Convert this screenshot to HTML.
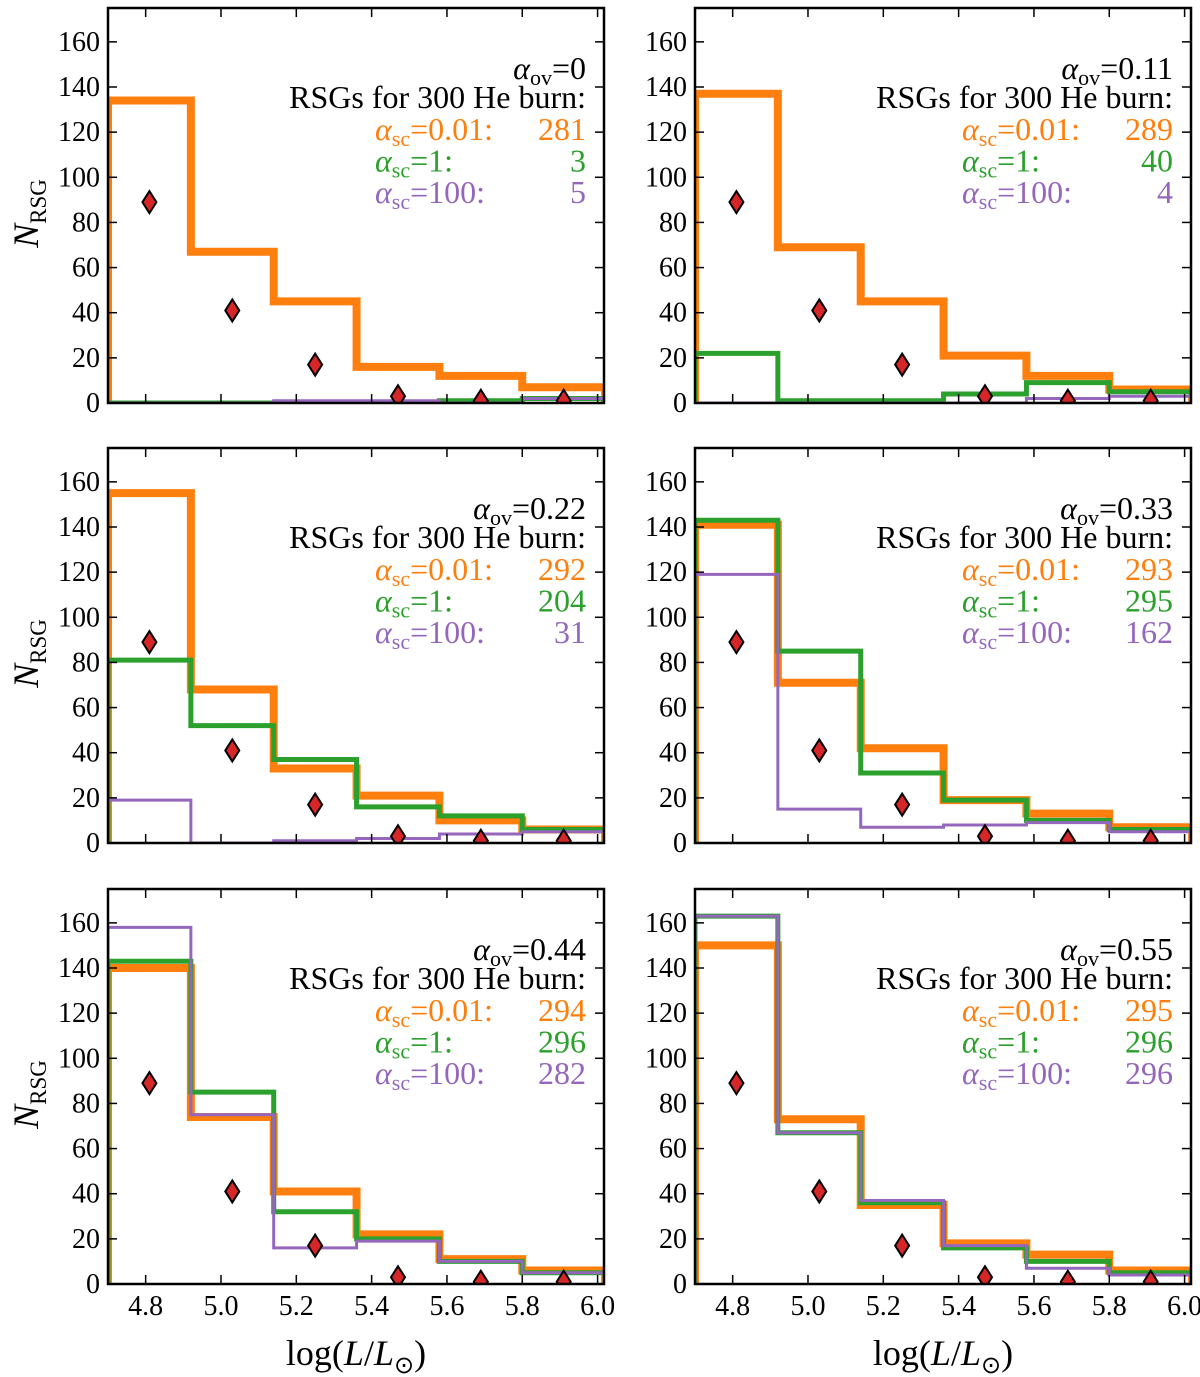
<!DOCTYPE html>
<html><head><meta charset="utf-8">
<style>
html,body{margin:0;padding:0;background:#fff;}
svg{display:block;font-family:"Liberation Serif",serif;}
</style></head>
<body>
<svg id="chart" width="1200" height="1377" viewBox="0 0 1200 1377" xmlns="http://www.w3.org/2000/svg"></svg>
<script>
const binEdges = [4.7, 4.92, 5.14, 5.36, 5.58, 5.80, 6.02];
const obsValues = [89, 41, 17, 3, 1, 1];
const ovLabels = ["0", "0.11", "0.22", "0.33", "0.44", "0.55"];
const orangeSeries = [
 [134,67,45,16,12,7],[137,69,45,21,12,6],[155,68,33,21,10,6],
 [141,71,42,19,13,7],[140,74,41,22,11,6],[150,73,35,18,13,6]];
const greenSeries = [
 [0,0,0,0,1,2],[22,1,1,4,9,5],[81,52,37,16,12,6],
 [143,85,31,19,10,6],[143,85,32,20,10,5],[163,67,36,16,10,5]];
const purpleSeries = [
 [0,0,1,1,0,2],[0,0,0,0,2,3],[19,0,1,2,4,5],
 [119,15,7,8,9,5],[158,75,16,19,10,5],[163,67,37,17,7,4]];
const orangeCounts = ["281","289","292","293","294","295"];
const greenCounts = ["3","40","204","295","296","296"];
const purpleCounts = ["5","4","31","162","282","296"];
const yTicks = [0,20,40,60,80,100,120,140,160];
const xTicks = [4.8,5.0,5.2,5.4,5.6,5.8,6.0];
const xTickLabels = ["4.8","5.0","5.2","5.4","5.6","5.8","6.0"];

const NS="http://www.w3.org/2000/svg";
const svg=document.getElementById('chart');
const X0=4.7, X1=6.017, Y0=0, Y1=175;
const colLeft=[108,695], rowTop=[8,448,889], PW=496, PH=395;
const COL={o:"#ff7f0e",g:"#2ca02c",p:"#9467bd"};
function mk(tag,attrs,parent){const e=document.createElementNS(NS,tag);for(const k in attrs)e.setAttribute(k,attrs[k]);(parent||svg).appendChild(e);return e;}

for(let i=0;i<6;i++){
  const c=i%2, r=Math.floor(i/2);
  const L=colLeft[c], T=rowTop[r];
  const sx=v=>L+(v-X0)/(X1-X0)*PW;
  const sy=v=>T+PH-(v-Y0)/(Y1-Y0)*PH;
  const g=mk('g',{});
  
  
  const cid='clip'+i;
  const cp=mk('clipPath',{id:cid},g);
  mk('rect',{x:L,y:T,width:PW,height:PH},cp);
  const plot=mk('g',{'clip-path':'url(#'+cid+')'},g);
  function step(vals,color,w,name){
    let d='M'+sx(binEdges[0])+','+sy(0);
    for(let k=0;k<vals.length;k++){
      d+=' L'+sx(binEdges[k])+','+sy(vals[k])+' L'+sx(binEdges[k+1])+','+sy(vals[k]);
    }
    d+=' L'+sx(binEdges[vals.length])+','+sy(0);
    const p=mk('path',{d:d,fill:'none',stroke:color,'stroke-width':w,'stroke-linejoin':'miter'},plot);
    
    
  }
  step(orangeSeries[i],COL.o,8,'orange-histogram');
  step(greenSeries[i],COL.g,5,'green-histogram');
  step(purpleSeries[i],COL.p,3,'purple-histogram');
  for(let k=0;k<obsValues.length;k++){
    const cx=sx((binEdges[k]+binEdges[k+1])/2), cy=sy(obsValues[k]);
    const dm=mk('path',{d:`M${cx},${cy-11} L${cx+7},${cy} L${cx},${cy+11} L${cx-7},${cy} Z`,fill:'#d62728',stroke:'#000','stroke-width':2},plot);
    
    
  }
  yTicks.forEach(v=>{
    const y=sy(v);
    mk('line',{x1:L,x2:L+9,y1:y,y2:y,stroke:'#000','stroke-width':1.5},g);
    mk('line',{x1:L+PW,x2:L+PW-9,y1:y,y2:y,stroke:'#000','stroke-width':1.5},g);
    const t=mk('text',{x:L-8,y:y+9,'text-anchor':'end','font-size':28},g);
    t.textContent=v;
    
    
  });
  xTicks.forEach((v,k)=>{
    const x=sx(v);
    mk('line',{x1:x,x2:x,y1:T+PH,y2:T+PH-9,stroke:'#000','stroke-width':1.5},g);
    mk('line',{x1:x,x2:x,y1:T,y2:T+9,stroke:'#000','stroke-width':1.5},g);
    if(r===2){
      const t=mk('text',{x:x,y:T+PH+31,'text-anchor':'middle','font-size':28},g);
      t.textContent=xTickLabels[k];
      
      
    }
  });
  mk('rect',{x:L,y:T,width:PW,height:PH,fill:'none',stroke:'#000','stroke-width':2.5},g);
  const RX=L+478;
  const lg=mk('g',{'font-size':32},g);
  
  
  let t=mk('text',{x:RX,y:T+71,'text-anchor':'end'},lg);
  t.innerHTML='<tspan font-style="italic">α</tspan><tspan font-size="22" dy="6">ov</tspan><tspan dy="-6">='+ovLabels[i]+'</tspan>';
  t=mk('text',{x:RX,y:T+100,'text-anchor':'end'},lg);
  t.textContent='RSGs for 300 He burn:';
  const rows=[[COL.o,'0.01:',orangeCounts[i]],[COL.g,'1:',greenCounts[i]],[COL.p,'100:',purpleCounts[i]]];
  rows.forEach((rw,k)=>{
    const y=T+132+k*31.5;
    const a=mk('text',{x:L+267,y:y,fill:rw[0]},lg);
    a.innerHTML='<tspan font-style="italic">α</tspan><tspan font-size="22" dy="6">sc</tspan><tspan dy="-6">='+rw[1]+'</tspan>';
    const b=mk('text',{x:RX,y:y,fill:rw[0],'text-anchor':'end'},lg);
    b.textContent=rw[2];
  });
  if(c===0){
    const yl=mk('text',{transform:`translate(38,${T+PH/2+8}) rotate(-90)`,'text-anchor':'middle','font-size':36},g);
    yl.innerHTML='<tspan font-style="italic">N</tspan><tspan font-size="23" dy="8">RSG</tspan>';
    
    
  }
  if(r===2){
    const xl=mk('text',{x:L+PW/2,y:1365,'text-anchor':'middle','font-size':36},g);
    xl.innerHTML='log(<tspan font-style="italic">L</tspan>/<tspan font-style="italic">L</tspan><tspan font-size="24" dy="8">⊙</tspan><tspan dy="-8">)</tspan>';
    
    
  }
}
</script>
</body></html>
